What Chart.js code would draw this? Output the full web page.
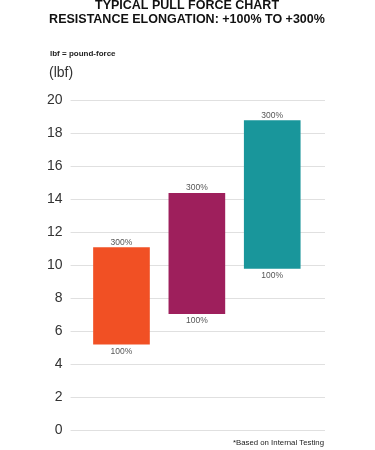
<!DOCTYPE html>
<html>
<head>
<meta charset="utf-8">
<script src="https://cdn.jsdelivr.net/npm/chart.js@4"></script>
<style>
html,body{margin:0;padding:0;background:#fff;}
#wrap{width:375px;height:450px;position:relative;}
</style>
</head>
<body>
<div id="wrap"><canvas id="c" width="375" height="450"></canvas></div>
<script>
const titleLines = ['TYPICAL PULL FORCE CHART', 'RESISTANCE ELONGATION: +100% TO +300%'];
const unitNote = 'lbf = pound-force';
const axisUnit = '(lbf)';
const footnote = '*Based on Internal Testing';
const categories = [0, 1, 2];
const lows = [5.2, 7.05, 9.8];
const highs = [11.05, 14.35, 18.75];
const topLabels = ['300%', '300%', '300%'];
const bottomLabels = ['100%', '100%', '100%'];
const barColors = ['#F15024', '#9E1F5C', '#19969B'];
const yMin = 0, yMax = 20, yStep = 2;

const FONT = '"Liberation Sans", Arial, sans-serif';

const textPlugin = {
  id: 'texts',
  afterDraw(chart) {
    const ctx = chart.ctx;
    const meta = chart.getDatasetMeta(0);
    const ys = chart.scales.y;
    ctx.save();
    ctx.font = '8.5px ' + FONT;
    ctx.fillStyle = '#555';
    ctx.textAlign = 'center';
    meta.data.forEach((bar, i) => {
      const x = bar.x;
      ctx.textBaseline = 'bottom';
      ctx.fillText(topLabels[i], x, ys.getPixelForValue(highs[i]) - 1);
      ctx.textBaseline = 'top';
      ctx.fillText(bottomLabels[i], x, ys.getPixelForValue(lows[i]) + 3);
    });
    ctx.fillStyle = '#111';
    ctx.font = 'bold 12.5px ' + FONT;
    ctx.textBaseline = 'middle';
    ctx.textAlign = 'center';
    ctx.fillText(titleLines[0], 187, 6);
    ctx.fillText(titleLines[1], 187, 20);
    ctx.textAlign = 'left';
    ctx.font = 'bold 8px ' + FONT;
    ctx.fillStyle = '#222';
    ctx.fillText(unitNote, 50, 54);
    ctx.font = '14px ' + FONT;
    ctx.fillStyle = '#333';
    ctx.fillText(axisUnit, 49, 73);
    ctx.textAlign = 'right';
    ctx.font = '7.8px ' + FONT;
    ctx.fillStyle = '#222';
    ctx.fillText(footnote, 324, 443);
    ctx.restore();
  }
};

new Chart(document.getElementById('c'), {
  type: 'bar',
  data: {
    datasets: [{
      data: categories.map((c, i) => ({x: c, y: [lows[i], highs[i]]})),
      backgroundColor: barColors,
      borderWidth: 0,
      barThickness: 56
    }]
  },
  options: {
    responsive: false,
    animation: false,
    layout: {padding: {top: 100, bottom: 20, left: 39, right: 50}},
    plugins: {legend: {display: false}, tooltip: {enabled: false}, title: {display: false}},
    scales: {
      x: {
        type: 'linear',
        min: -0.503,
        max: 2.70,
        display: false,
        offset: false
      },
      y: {
        min: yMin,
        max: yMax,
        ticks: {stepSize: yStep, color: '#333', font: {family: FONT, size: 14}, padding: 8},
        grid: {color: '#e0e0e0', lineWidth: 1, drawTicks: true, tickLength: 13, tickColor: '#e0e0e0'},
        border: {display: false}
      }
    }
  },
  plugins: [textPlugin]
});
</script>
</body>
</html>
